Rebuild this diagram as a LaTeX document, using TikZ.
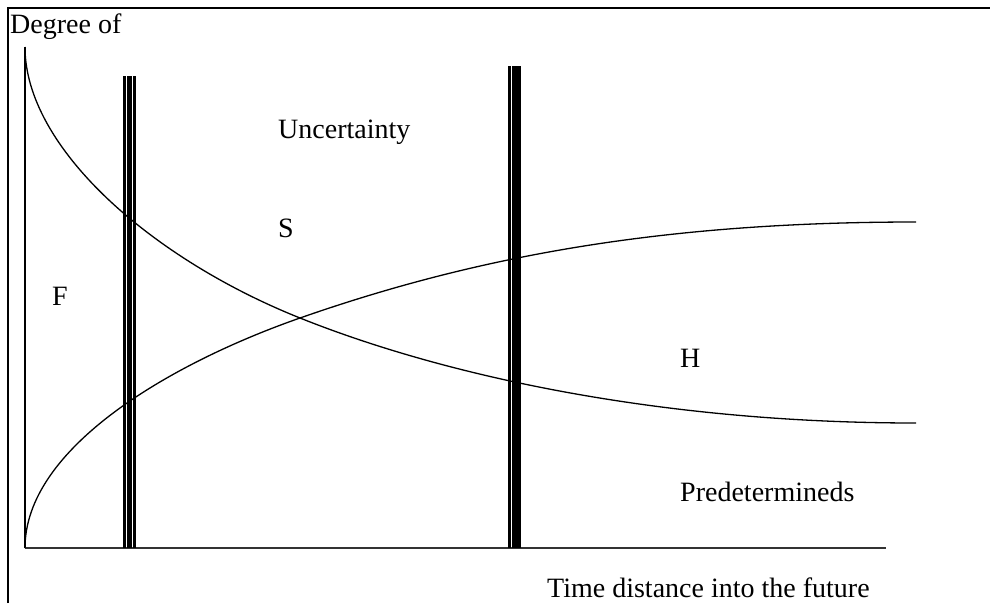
\documentclass[tikz,border=0pt]{standalone}
\usepackage{fontspec}
\setmainfont{Liberation Serif}
\usetikzlibrary{positioning,calc}

\begin{document}
\begin{tikzpicture}[
    x=1pt, y=-1pt,
    lbl/.style={anchor=base west, inner sep=0pt, font=\fontsize{28}{30}\selectfont},
    curve/.style={line width=1.3pt},
    axis/.style={line width=2pt, draw=black!80},
    bar/.style={line width=#1, draw=black}
]
    \useasboundingbox (0,0) rectangle (990,603);

    % Frame
    \draw[line width=1.6pt] (8,603) -- (8,8) -- (990,8);

    % Axes
    \coordinate (origin) at (25,548);
    \coordinate (ytop) at (25,47);
    \coordinate (xend) at (886,548);
    \draw[line width=1.3pt] (origin) -- (ytop);
    \draw[axis] (origin) -- (xend);

    % Labels
    \node[lbl] (ylabel) at (10,33) {Degree of};
    \node[lbl] (uncert) at (278,138) {Uncertainty};
    \node[lbl] (sreg) at (278,237) {S};
    \node[lbl] (freg) at (52,305) {F};
    \node[lbl] (hreg) at (680,367) {H};
    \node[lbl] (predet) at (680,501) {Predetermineds};
    \node[lbl] (xlabel) at (547,597) {Time distance into the future};

    % Curves
    \coordinate (cross) at (300,318);
    \coordinate (uend) at (916,423);
    \coordinate (pend) at (916,222);
    \draw[curve] (ytop) .. controls (25,147) and (150,258) .. (cross)
        .. controls (450,378) and (666,423) .. (uend);
    \draw[curve] (origin) .. controls (25,448) and (170,363.5) .. (cross)
        .. controls (480,255) and (666,222) .. (pend);

    % Horizon bars
    \foreach \x/\top in {122.7/76, 508/66} {
        \draw[bar=3pt] (\x+1.5,\top) -- (\x+1.5,548);
        \draw[bar=5.5pt] (\x+6.9,\top) -- (\x+6.9,548);
        \draw[bar=2.5pt] (\x+11.6,\top) -- (\x+11.6,548);
    }
\end{tikzpicture}
\end{document}
